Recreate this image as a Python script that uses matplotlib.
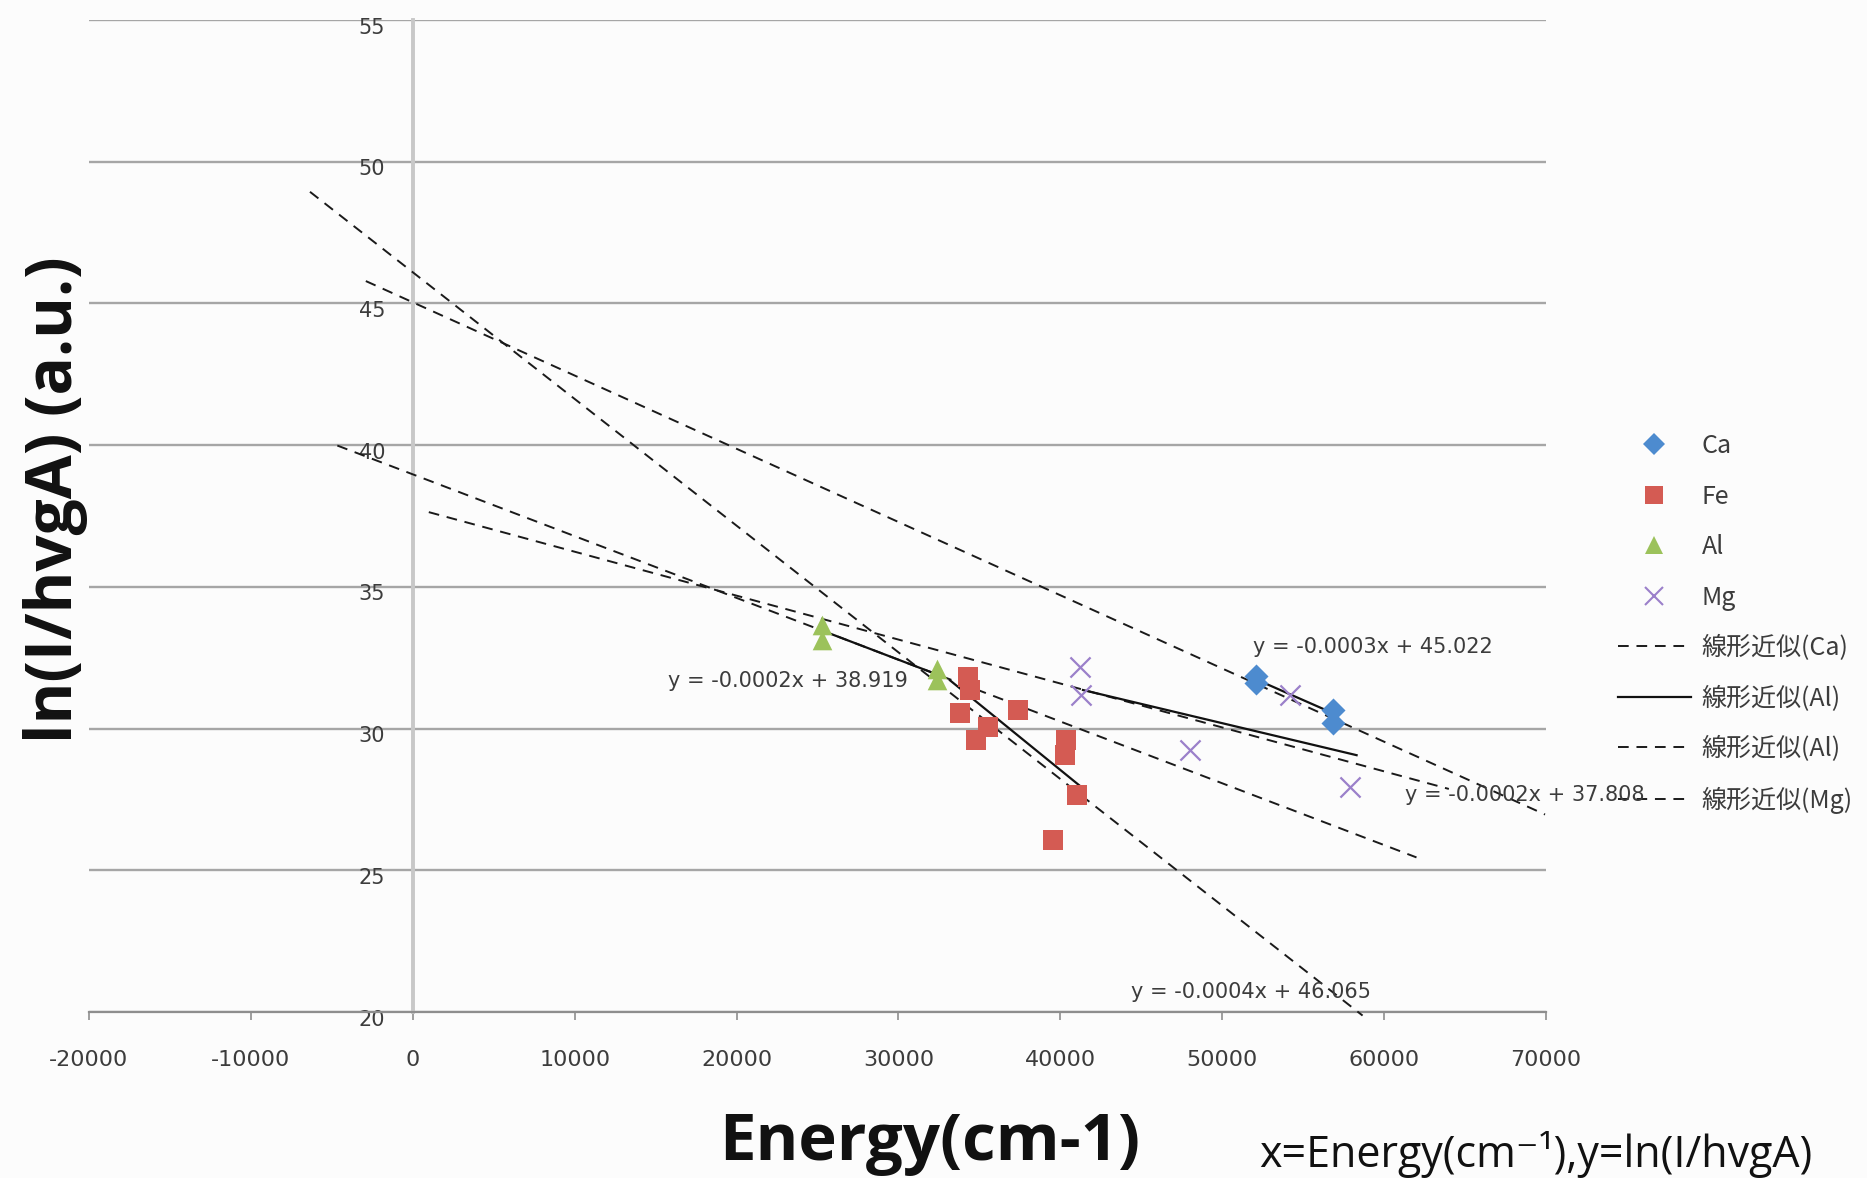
import matplotlib
matplotlib.use("Agg")
import matplotlib.pyplot as plt
from matplotlib.lines import Line2D
from matplotlib.transforms import ScaledTranslation
import numpy as np

# ---------------- data ----------------
ca_x = [52100, 52100, 56850, 56850]
ca_y = [31.85, 31.6, 30.65, 30.2]

fe_x = [34310, 34410, 33800, 35540, 34820, 37400, 40380, 40280, 41000, 39560]
fe_y = [31.83, 31.36, 30.54, 30.07, 29.6, 30.65, 29.6, 29.07, 27.65, 26.07]

al_x = [25300, 25300, 32400, 32400]
al_y = [33.65, 33.12, 32.1, 31.7]

mg_x = [41200, 41300, 47990, 54160, 57870]
mg_y = [32.18, 31.2, 29.24, 31.18, 27.95]

# dashed trend lines: slope, intercept, x start, x end
dash_names = ["Ca", "Al", "Mg", "Fe"]
dash_slope = [-0.0002584, -0.000218, -0.000155, -0.000447]
dash_icpt = [45.04, 38.97, 37.79, 46.1]
dash_x0 = [-2900, -4660, 990, -6350]
dash_x1 = [69940, 62000, 64000, 58670]

# solid trend segments
solid_names = ["Ca", "Al", "Fe", "Mg"]
solid_slope = [-0.000251, -0.000218, -0.000464, -0.000136]
solid_icpt = [44.81, 38.97, 47.1, 36.99]
solid_x0 = [51700, 25300, 33180, 41400]
solid_x1 = [56840, 32400, 41390, 58300]

eq_texts = ["y = -0.0003x + 45.022", "y = -0.0002x + 38.919",
            "y = -0.0002x + 37.808", "y = -0.0004x + 46.065"]

xticks = [-20000, -10000, 0, 10000, 20000, 30000, 40000, 50000, 60000, 70000]
yticks = [20, 25, 30, 35, 40, 45, 50, 55]

legend_labels = ["Ca", "Fe", "Al", "Mg", "線形近似(Ca)", "線形近似(Al)",
                 "線形近似(Al)", "線形近似(Mg)"]

# ---------------- style ----------------
plt.rcParams['font.family'] = ['DejaVu Sans', 'Noto Sans CJK JP']
C_CA = '#4d8bcf'
C_FE = '#d45b53'
C_AL = '#9cc25b'
C_MG = '#9b80ca'
TXT = '#3c3c3c'

fig = plt.figure(figsize=(18.67, 11.78), dpi=100, facecolor='#fcfcfc')
ax = fig.add_axes([89/1867, 1-1012/1178, (1546-89)/1867, (1012-20)/1178])
ax.set_facecolor('#fcfcfc')
ax.set_xlim(-20000, 70000)
ax.set_ylim(20, 55)

ax.set_xticks(xticks)
ax.set_yticks(yticks)
ax.set_xticklabels([str(v) for v in xticks])
ax.set_yticklabels([str(v) for v in yticks])

ax.grid(axis='y', color='#a6a6a6', lw=1.7, zorder=0)
ax.set_axisbelow(True)
for s in ['top', 'right']:
    ax.spines[s].set_visible(False)
ax.spines['left'].set_position(('data', 0))
ax.spines['left'].set_color('#c8c8c8')
ax.spines['left'].set_linewidth(2.8)
ax.spines['bottom'].set_color('#8e8e8e')
ax.spines['bottom'].set_linewidth(1.6)

ax.tick_params(axis='x', direction='out', length=6, width=1.2, color='#8e8e8e',
               labelsize=16, labelcolor=TXT, pad=21)
ax.tick_params(axis='y', length=0, labelsize=15, labelcolor=TXT, pad=20)
for lab in ax.get_yticklabels():
    lab.set_transform(lab.get_transform() + ScaledTranslation(0, -4/72, fig.dpi_scale_trans))

# dashed lines
for k, b, x0, x1 in zip(dash_slope, dash_icpt, dash_x0, dash_x1):
    xs = np.array([x0, x1], dtype=float)
    ax.plot(xs, k*xs + b, color='#1a1a1a', lw=1.4, ls=(0, (5.5, 4)), zorder=3, clip_on=False)

# solid lines
for k, b, x0, x1 in zip(solid_slope, solid_icpt, solid_x0, solid_x1):
    xs = np.array([x0, x1], dtype=float)
    ax.plot(xs, k*xs + b, color='#111111', lw=1.6, ls='-', zorder=4)

# markers
ax.scatter(ca_x, ca_y, marker='D', s=150, color=C_CA, zorder=5, linewidths=0)
ax.scatter(fe_x, fe_y, marker='s', s=200, color=C_FE, zorder=5, linewidths=0)
ax.scatter(al_x, al_y, marker='^', s=200, color=C_AL, zorder=5, linewidths=0)
ax.scatter(mg_x, mg_y, marker='x', s=210, color=C_MG, zorder=5, linewidths=1.6)

# equation labels
eq_pos = [(51880, 32.88), (15770, 31.68), (61270, 27.65), (44370, 20.72)]
for t, (px, py) in zip(eq_texts, eq_pos):
    ax.text(px, py, t, fontsize=15, color=TXT, ha='left', va='center',
            zorder=6, clip_on=False)

# axis labels
fig.text(56/1867, 1-500/1178, "ln(I/hvgA) (a.u.)", rotation=90, fontsize=46,
         fontweight='bold', ha='center', va='center',
         family=['Open Sans', 'DejaVu Sans'], color='#111111')
fig.text(930/1867, 1-1143/1178, "Energy(cm-1)", fontsize=47, fontweight='bold',
         ha='center', va='center', family=['Open Sans'], color='#111111')
fig.text(1536/1867, 1-1155/1178, "x=Energy(cm⁻¹),y=ln(I/hvgA)", fontsize=31,
         ha='center', va='center', family=['Open Sans', 'DejaVu Sans'], color='#111111')

# legend
handles = [
    Line2D([], [], marker='D', ls='none', color=C_CA, markersize=11, markeredgewidth=0),
    Line2D([], [], marker='s', ls='none', color=C_FE, markersize=13, markeredgewidth=0),
    Line2D([], [], marker='^', ls='none', color=C_AL, markersize=13, markeredgewidth=0),
    Line2D([], [], marker='x', ls='none', color=C_MG, markersize=13, markeredgewidth=1.5),
    Line2D([], [], color='#1a1a1a', lw=1.4, ls=(0, (5.5, 4))),
    Line2D([], [], color='#111111', lw=1.6, ls='-'),
    Line2D([], [], color='#1a1a1a', lw=1.4, ls=(0, (5.5, 4))),
    Line2D([], [], color='#1a1a1a', lw=1.4, ls=(0, (5.5, 4))),
]
leg = ax.legend(handles, legend_labels, loc='upper left',
                bbox_to_anchor=(1618/1867, 1-433/1178), bbox_transform=fig.transFigure,
                frameon=False, prop={'family': ['Noto Sans CJK JP'], 'size': 18},
                handlelength=2.9, handletextpad=0.45, labelspacing=0.98,
                borderpad=0, borderaxespad=0)
for t in leg.get_texts():
    t.set_color(TXT)

fig.savefig("out.png", dpi=100, facecolor=fig.get_facecolor())
